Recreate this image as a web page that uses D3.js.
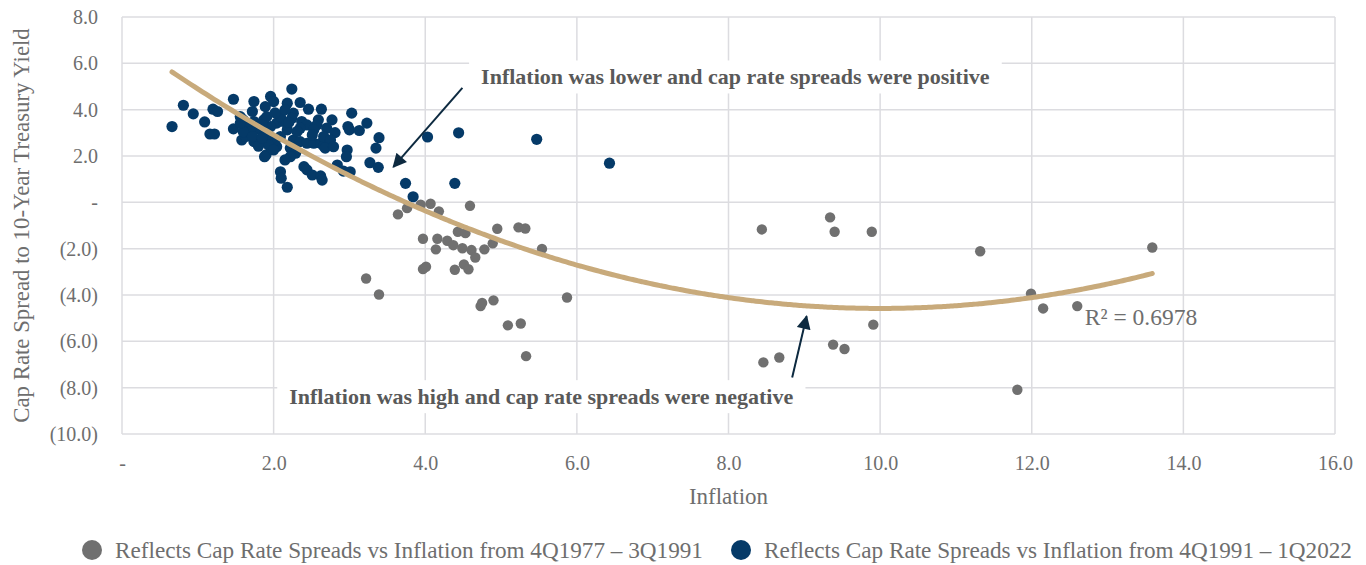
<!DOCTYPE html>
<html lang="en">
<head>
  <meta charset="UTF-8">
  <title>Cap Rate Spread vs Inflation</title>
  <style>
    body { margin: 0; background: #fff; }
    svg text { font-family: "Liberation Serif", "DejaVu Serif", serif; fill: #6e6e6e; }
    .note { font-weight: bold; fill: #595959; }
  </style>
  <script src="https://d3js.org/d3.v7.min.js"></script>
</head>
<body>
  <svg id="chart"></svg>
  <script>
    // 4Q1977 - 3Q1991 [inflation, spread]
    const earlyPoints = [
      [3.64, -0.52], [3.76, -0.25], [3.94, -0.10], [4.07, -0.06], [4.18, -0.39], [4.59, -0.15],
      [3.97, -1.57], [4.16, -1.57], [4.14, -2.03], [4.29, -1.66], [4.37, -1.85], [4.43, -1.27],
      [4.53, -1.33], [4.49, -1.98], [4.61, -2.06], [4.66, -2.38], [4.78, -2.03], [4.89, -1.77],
      [4.95, -1.14], [5.23, -1.08], [5.32, -1.13], [5.54, -2.01], [3.97, -2.88], [4.01, -2.78],
      [4.39, -2.91], [4.51, -2.68], [4.57, -2.89], [3.22, -3.29], [3.39, -3.98], [4.73, -4.48],
      [4.75, -4.34], [4.90, -4.23], [5.09, -5.31], [5.26, -5.23], [5.33, -6.64], [5.87, -4.11],
      [8.44, -1.17], [9.34, -0.65], [9.40, -1.27], [9.89, -1.27], [9.91, -5.28], [9.38, -6.14],
      [9.53, -6.33], [8.46, -6.91], [8.67, -6.70], [11.32, -2.11], [13.59, -1.95], [11.99, -3.94],
      [12.15, -4.58], [12.60, -4.48], [11.81, -8.09]
    ];

    // 4Q1991 - 1Q2022 [inflation, spread]
    const latePoints = [
      [0.66, 3.27], [0.81, 4.19], [0.94, 3.82], [1.09, 3.47], [1.16, 2.95], [1.22, 2.95],
      [1.20, 4.02], [1.26, 3.92], [1.47, 4.45], [1.47, 3.17], [1.58, 2.69], [1.63, 2.84],
      [1.60, 3.56], [1.56, 3.70], [1.74, 4.35], [1.72, 3.92], [1.74, 3.49], [1.78, 3.27],
      [1.82, 3.13], [1.78, 2.69], [1.74, 2.62], [1.90, 2.05], [1.88, 1.97], [1.96, 4.57],
      [2.00, 4.35], [1.89, 4.13], [2.09, 1.32], [2.10, 1.04], [2.18, 0.65], [2.24, 4.89],
      [2.18, 4.28], [2.35, 4.31], [2.26, 3.85], [2.24, 3.63], [2.46, 4.02], [2.63, 4.02],
      [2.59, 3.56], [2.57, 3.34], [2.77, 3.56], [2.70, 3.20], [2.81, 3.01], [3.03, 3.85],
      [2.98, 3.27], [3.00, 3.13], [3.13, 3.10], [3.23, 3.42], [3.39, 2.79], [3.35, 2.34],
      [2.97, 2.26], [2.96, 1.97], [2.84, 1.61], [2.92, 1.35], [3.01, 1.32], [3.27, 1.71],
      [3.38, 1.51], [2.40, 1.54], [2.44, 1.40], [2.51, 1.18], [2.62, 1.14], [2.64, 0.96],
      [2.04, 3.42], [2.13, 3.49], [2.18, 3.13], [2.09, 2.84], [2.04, 2.40], [2.02, 2.69],
      [2.26, 2.69], [2.35, 2.62], [2.44, 2.55], [2.53, 2.55], [2.62, 2.55], [2.66, 2.43],
      [2.22, 2.34], [2.29, 2.12], [2.22, 1.97], [2.15, 1.83], [1.96, 3.27], [1.91, 2.98],
      [1.98, 2.77], [1.93, 2.48], [2.00, 2.26], [1.65, 3.27], [1.69, 3.05], [1.60, 3.05],
      [1.72, 2.84], [1.87, 3.56], [1.91, 3.70], [1.85, 3.34], [2.09, 3.70], [2.37, 3.49],
      [2.44, 3.34], [2.35, 3.20], [2.53, 3.13], [2.51, 2.91], [2.66, 2.84], [2.75, 2.69],
      [2.68, 2.34], [2.79, 2.40], [1.80, 2.42], [1.85, 2.78], [2.20, 3.45], [2.31, 3.06],
      [1.56, 3.42], [2.15, 3.99], [2.02, 3.86], [3.74, 0.82], [3.84, 0.24], [4.39, 0.82],
      [4.03, 2.82], [4.44, 3.00], [5.47, 2.72], [6.43, 1.69]
    ];

    // polynomial trendline (order 2): c0 + c1*x + c2*x^2
    const trendCoef = [7.12, -2.34, 0.117];
    const trendRange = [0.66, 13.59];
    const rSquared = "R\u00b2 = 0.6978";

    const xTicks = [0, 2, 4, 6, 8, 10, 12, 14, 16];
    const yTicks = [8, 6, 4, 2, 0, -2, -4, -6, -8, -10];

    const seriesNames = [
      "Reflects Cap Rate Spreads vs Inflation from 4Q1977 \u2013 3Q1991",
      "Reflects Cap Rate Spreads vs Inflation from 4Q1991 \u2013 1Q2022"
    ];
    const seriesColors = ["#707070", "#053a68"];

    const notes = [
      { text: "Inflation was lower and cap rate spreads were positive", at: [8.09, 5.42], from: [4.49, 4.94], to: [3.58, 1.53] },
      { text: "Inflation was high and cap rate spreads were negative", at: [5.53, -8.38], from: [8.84, -7.56], to: [9.03, -4.92] }
    ];

    const W = 1366, H = 565;
    const margin = { top: 17, right: 31, bottom: 131, left: 122 };
    const width = W - margin.left - margin.right;
    const height = H - margin.top - margin.bottom;

    const svg = d3.select("#chart").attr("width", W).attr("height", H);
    const g = svg.append("g").attr("transform", `translate(${margin.left},${margin.top})`);

    const x = d3.scaleLinear().domain([0, 16]).range([0, width]);
    const y = d3.scaleLinear().domain([-10, 8]).range([height, 0]);

    const fmt = v => v === 0 ? "-" : v < 0 ? `(${d3.format(".1f")(-v)})` : d3.format(".1f")(v);

    // grid
    g.append("g").selectAll("line").data(xTicks).join("line")
      .attr("x1", d => x(d)).attr("x2", d => x(d))
      .attr("y1", 0).attr("y2", height)
      .attr("stroke", "#dcdce0").attr("stroke-width", 1.5);
    g.append("g").selectAll("line").data(yTicks).join("line")
      .attr("x1", 0).attr("x2", width)
      .attr("y1", d => y(d)).attr("y2", d => y(d))
      .attr("stroke", "#dcdce0").attr("stroke-width", 1.5);

    // axes (labels only)
    const xAxis = g.append("g").attr("transform", `translate(0,${height})`)
      .call(d3.axisBottom(x).tickValues(xTicks).tickFormat(fmt).tickSize(0).tickPadding(22));
    const yAxis = g.append("g")
      .call(d3.axisLeft(y).tickValues(yTicks).tickFormat(fmt).tickSize(0).tickPadding(24));
    [xAxis, yAxis].forEach(a => {
      a.select(".domain").remove();
      a.selectAll("text").attr("font-size", 20).attr("fill", "#6e6e6e")
        .attr("font-family", "Liberation Serif, serif");
    });

    // points
    g.append("g").selectAll("circle").data(earlyPoints).join("circle")
      .attr("cx", d => x(d[0])).attr("cy", d => y(d[1])).attr("r", 5.2)
      .attr("fill", seriesColors[0]);
    g.append("g").selectAll("circle").data(latePoints).join("circle")
      .attr("cx", d => x(d[0])).attr("cy", d => y(d[1])).attr("r", 5.6)
      .attr("fill", seriesColors[1]);

    // trendline
    const poly = v => trendCoef[0] + trendCoef[1] * v + trendCoef[2] * v * v;
    const xs = d3.range(trendRange[0], trendRange[1], 0.05).concat([trendRange[1]]);
    g.append("path")
      .datum(xs)
      .attr("d", d3.line().x(d => x(d)).y(d => y(poly(d))).curve(d3.curveBasis))
      .attr("fill", "none").attr("stroke", "#c8aa7b").attr("stroke-width", 5)
      .attr("stroke-linecap", "round");

    g.append("text")
      .attr("x", x(12.7)).attr("y", y(-5.3))
      .attr("font-size", 23.5)
      .text(rSquared);

    // annotations
    svg.append("defs").append("marker")
      .attr("id", "head").attr("viewBox", "0 0 10 10")
      .attr("refX", 9).attr("refY", 5)
      .attr("markerWidth", 7.5).attr("markerHeight", 7)
      .attr("orient", "auto")
      .append("path").attr("d", "M0,0 L10,5 L0,10 z").attr("fill", "#0d2a40");

    notes.forEach(n => {
      const t = g.append("text")
        .attr("class", "note")
        .attr("x", x(n.at[0])).attr("y", y(n.at[1]))
        .attr("text-anchor", "middle").attr("dy", "0.35em")
        .attr("font-size", 22)
        .text(n.text);
      const b = t.node().getBBox();
      g.insert("rect", () => t.node())
        .attr("x", b.x - 12).attr("y", b.y - 4)
        .attr("width", b.width + 24).attr("height", b.height + 8)
        .attr("fill", "#fff");
      g.append("line")
        .attr("x1", x(n.from[0])).attr("y1", y(n.from[1]))
        .attr("x2", x(n.to[0])).attr("y2", y(n.to[1]))
        .attr("stroke", "#0d2a40").attr("stroke-width", 2)
        .attr("marker-end", "url(#head)");
    });

    // axis titles
    svg.append("text")
      .attr("x", margin.left + width / 2).attr("y", 504)
      .attr("text-anchor", "middle").attr("font-size", 23)
      .text("Inflation");
    svg.append("text")
      .attr("transform", `translate(29,${margin.top + height / 2}) rotate(-90)`)
      .attr("text-anchor", "middle").attr("font-size", 22.8)
      .text("Cap Rate Spread to 10-Year Treasury Yield");

    // legend
    const legendX = [92, 741];
    seriesNames.forEach((name, i) => {
      const lg = svg.append("g").attr("transform", `translate(${legendX[i]},550)`);
      lg.append("circle").attr("r", 10).attr("fill", seriesColors[i]);
      lg.append("text").attr("x", 23).attr("dy", "0.33em")
        .attr("font-size", 23.2).text(name);
    });
  </script>
</body>
</html>
